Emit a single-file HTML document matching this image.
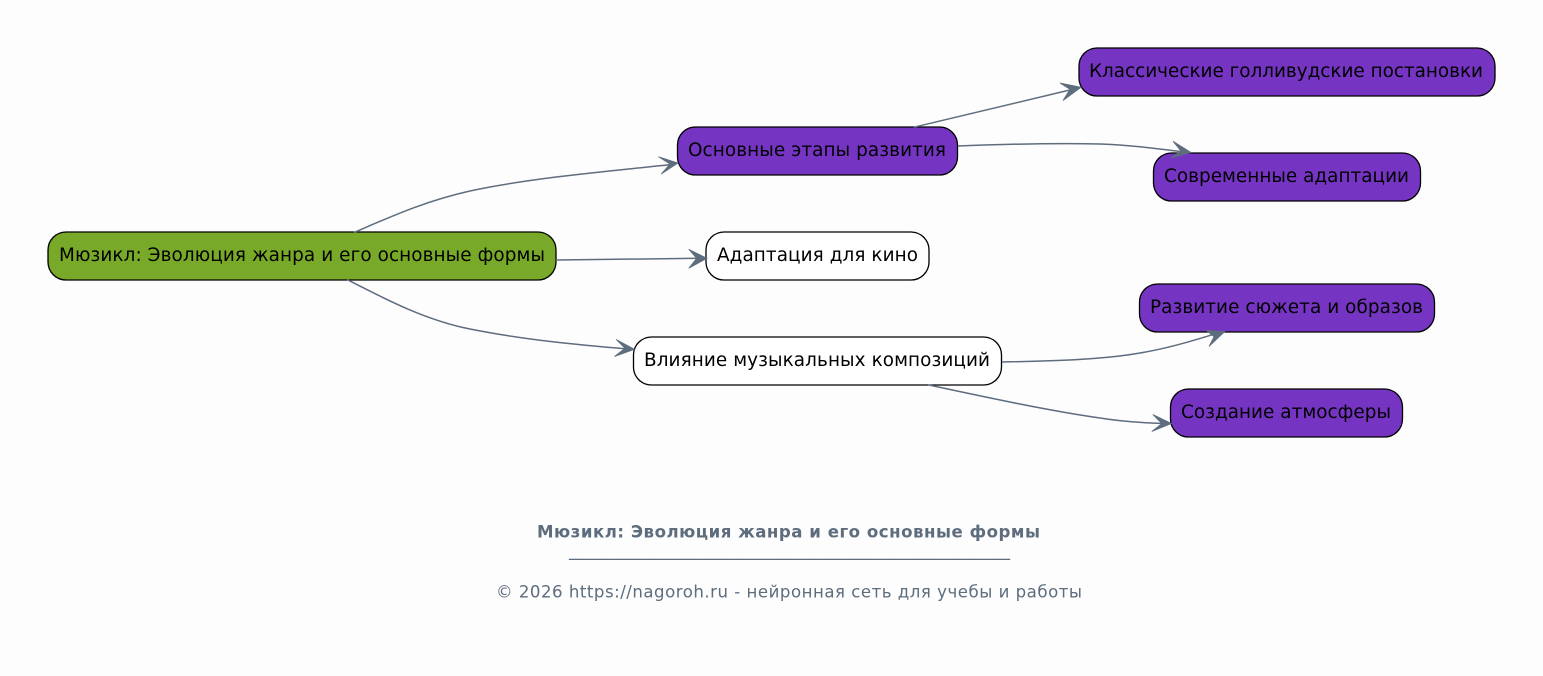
<!DOCTYPE html>
<html><head><meta charset="utf-8"><style>
html,body{margin:0;padding:0;background:#fdfdfd}
svg{display:block}
text{font-family:"DejaVu Sans",sans-serif}
.n{font-size:18.4px;fill:#000}
.e{fill:none;stroke:#5d6d7e;stroke-width:1.5}
.a{fill:#5d6d7e;stroke:#5d6d7e;stroke-width:.8;stroke-linejoin:miter}
.b{stroke:#000;stroke-width:1.3}
</style></head><body>
<svg width="1543" height="676" viewBox="0 0 1543 676" xmlns="http://www.w3.org/2000/svg">
<rect width="1543" height="676" fill="#fdfdfd"/>

<rect class="b" x="48" y="232" width="508" height="48" rx="18" fill="#78a928"/>
<text class="n" x="59" y="261" textLength="486">Мюзикл: Эволюция жанра и его основные формы</text>

<rect class="b" x="677.500" y="127" width="280" height="48" rx="18" fill="#7535c2"/>
<text class="n" x="688" y="156" textLength="258">Основные этапы развития</text>

<rect class="b" x="706" y="232" width="223" height="48" rx="18" fill="#fff"/>
<text class="n" x="717" y="261" textLength="201">Адаптация для кино</text>

<rect class="b" x="633.500" y="337" width="368" height="48" rx="18" fill="#fff"/>
<text class="n" x="644" y="366" textLength="346">Влияние музыкальных композиций</text>

<rect class="b" x="1079" y="48" width="416" height="48" rx="18" fill="#7535c2"/>
<text class="n" x="1089" y="77" textLength="394">Классические голливудские постановки</text>

<rect class="b" x="1153.500" y="153" width="267" height="48" rx="18" fill="#7535c2"/>
<text class="n" x="1164" y="182" textLength="245">Современные адаптации</text>

<rect class="b" x="1139.500" y="284" width="295" height="48" rx="18" fill="#7535c2"/>
<text class="n" x="1150" y="313" textLength="273">Развитие сюжета и образов</text>

<rect class="b" x="1170.500" y="389" width="232" height="48" rx="18" fill="#7535c2"/>
<text class="n" x="1181" y="418" textLength="210">Создание атмосферы</text>

<path class="e" d="M354 232.500C390 217 425 201 470 191C530 178 610 171 672 164.500"/>
<path class="a" d="M678 163L658.500 156.800L670 164L661.200 174Z"/>
<path class="e" d="M556 260L700 258.300"/>
<path class="a" d="M707 258.300L688.800 249.300L696.700 258.300L688.800 268.300Z"/>
<path class="e" d="M347 279.500C385 299 425 320 470 329C525 340 580 345 628 349"/>
<path class="a" d="M634.500 349.300L616.200 339.500L625 348.300L614.500 356.500Z"/>
<path class="e" d="M914 127.200L1074 89"/>
<path class="a" d="M1081 87.300L1060 83L1070 89.300L1063 100.500Z"/>
<path class="e" d="M958 146C1010 144 1060 143 1100 144C1130 145 1160 149 1184 152"/>
<path class="a" d="M1191 152.500L1173 141.200L1180.700 150.700L1171.200 158Z"/>
<path class="e" d="M1002 362C1050 361 1100 360 1140 353C1170 348 1195 340 1218 333"/>
<path class="a" d="M1224.800 331.500L1206.200 330.500L1214 336.700L1209 346.500Z"/>
<path class="e" d="M928 384.800C985 397 1050 411 1100 418C1125 422 1145 423 1165 423.500"/>
<path class="a" d="M1171.500 423.500L1152.800 414.500L1161.700 423.500L1151.800 431.500Z"/>

<text x="537" y="537.500" font-size="16.6" font-weight="bold" fill="#5d6d7e" textLength="503">Мюзикл: Эволюция жанра и его основные формы</text>
<text x="569" y="556" font-size="17.33" fill="#5d6d7e" textLength="441">___________________________________________________</text>
<text x="496" y="597.500" font-size="16.6" fill="#5d6d7e" textLength="586">© 2026 https://nagoroh.ru - нейронная сеть для учебы и работы</text>
</svg>
</body></html>
